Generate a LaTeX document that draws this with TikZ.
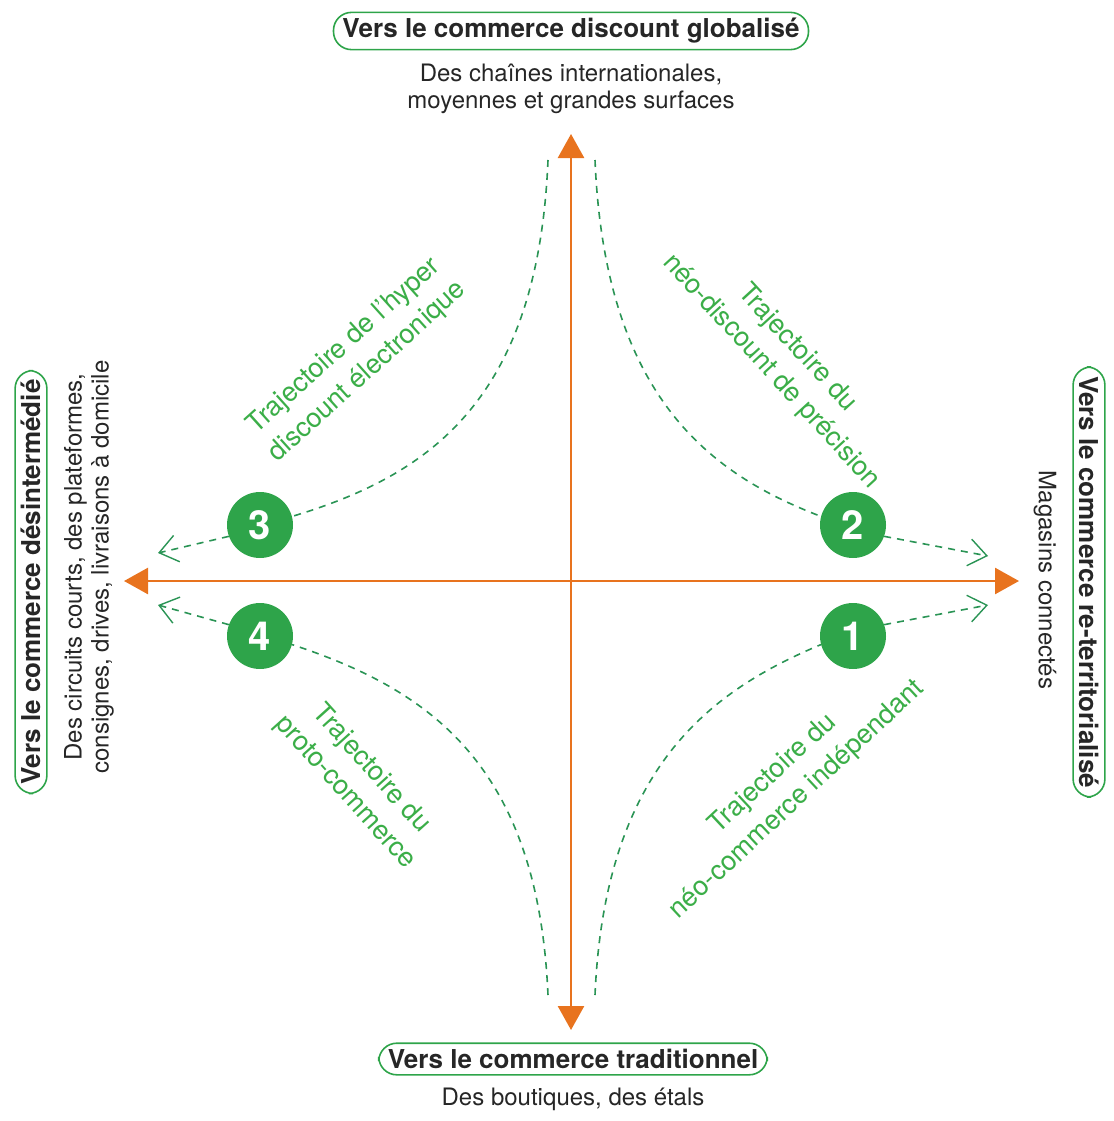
\documentclass[tikz,border=0pt]{standalone}
\usepackage{fontspec}
\setmainfont{TeX Gyre Heros}
\usetikzlibrary{arrows.meta, positioning, backgrounds}
\definecolor{orangeaxe}{HTML}{E8731E}
\definecolor{vertrond}{HTML}{2EA44A}
\definecolor{verttexte}{HTML}{3BAE48}
\definecolor{vertpoint}{HTML}{2A9455}

\begin{document}
\begin{tikzpicture}[
    x=1pt, y=-1pt,
    every node/.style={font=\fontsize{24}{27}\selectfont, text=black!85},
    % Boxes of the four directions
    titrebox/.style={
      draw=vertrond, line width=1.6pt, rounded corners=18pt,
      inner xsep=9pt, inner ysep=6pt,
      font=\fontsize{26}{30}\selectfont\bfseries
    },
    soustitre/.style={align=center},
    % Axes
    axe/.style={orangeaxe, line width=2.6pt,
      {Triangle[length=24pt,width=26pt]}-{Triangle[length=24pt,width=26pt]}},
    % Trajectories
    trajet/.style={vertpoint, line width=1.6pt, dash pattern=on 7pt off 6pt},
    fleche/.style={trajet, -{Straight Barb[length=18pt,width=27pt,line width=1.4pt]}},
    rond/.style={circle, fill=vertrond, minimum size=66pt, inner sep=0pt,
      text=white, font=\fontsize{40}{40}\selectfont\bfseries},
    trajtexte/.style={text=verttexte, align=center,
      font=\fontsize{27}{35}\selectfont}
  ]
  \useasboundingbox (0,0) rectangle (1113,1121);

  % ============ Axes ============
  \coordinate (haut) at (571,134);
  \coordinate (bas) at (571,1030);
  \coordinate (gauche) at (124,581);
  \coordinate (droite) at (1019,581);
  \draw[axe] (bas) -- (haut);
  \draw[axe] (gauche) -- (droite);

  % ============ Directions ============
  \node[titrebox] (nord) at (571,31) {Vers le commerce discount globalisé};
  \node[soustitre, below=10pt of nord] (nordtxt)
    {Des chaînes internationales,\\moyennes et grandes surfaces};
  \node[titrebox] (sud) at (573,1059) {Vers le commerce traditionnel};
  \node[soustitre, below=9pt of sud] (sudtxt) {Des boutiques, des étals};
  \node[titrebox, rotate=90] (ouest) at (31,582) {Vers le commerce désintermédié};
  \node[soustitre, rotate=90] (ouesttxt) at (89,567)
    {Des circuits courts, des plateformes,\\consignes, drives, livraisons à domicile};
  \node[titrebox, rotate=-90] (est) at (1089,582) {Vers le commerce re-territorialisé};
  \node[soustitre, rotate=-90] (esttxt) at (1045,580) {Magasins connectés};

  % ============ Trajectories ============
  \node[rond] (t3) at (260,525) {3};
  \node[rond] (t2) at (853,525) {2};
  \node[rond] (t4) at (260,636) {4};
  \node[rond] (t1) at (853,636) {1};

  \coordinate (hg) at (548,160);
  \coordinate (hd) at (595,160);
  \coordinate (bg) at (548,995);
  \coordinate (bd) at (595,995);
  \coordinate (f3) at (158,553);
  \coordinate (f4) at (158,605);
  \coordinate (f2) at (988,556);
  \coordinate (f1) at (988,605);

  \begin{pgfonlayer}{background}
  \draw[trajet] (hg) .. controls (538,400) and (430,475) .. (t3.15);
  \draw[trajet] (hd) .. controls (605,400) and (713,475) .. (t2.165);
  \draw[trajet] (bg) .. controls (538,765) and (430,690) .. (t4.-15);
  \draw[trajet] (bd) .. controls (605,765) and (713,690) .. (t1.195);
  \draw[fleche] (t3.200) -- (f3);
  \draw[fleche] (t4.160) -- (f4);
  \draw[fleche] (t2.-20) -- (f2);
  \draw[fleche] (t1.20) -- (f1);
  \end{pgfonlayer}

  \node[trajtexte, rotate=42] (txt3) at (356,359)
    {Trajectoire de l'hyper\\discount électronique};
  \node[trajtexte, rotate=-47.5] (txt2) at (784,360)
    {Trajectoire du\\néo-discount de précision};
  \node[trajtexte, rotate=-48] (txt4) at (358,781)
    {Trajectoire du\\proto-commerce};
  \node[trajtexte, rotate=43] (txt1) at (785,787)
    {Trajectoire du\\néo-commerce indépendant};
\end{tikzpicture}
\end{document}
